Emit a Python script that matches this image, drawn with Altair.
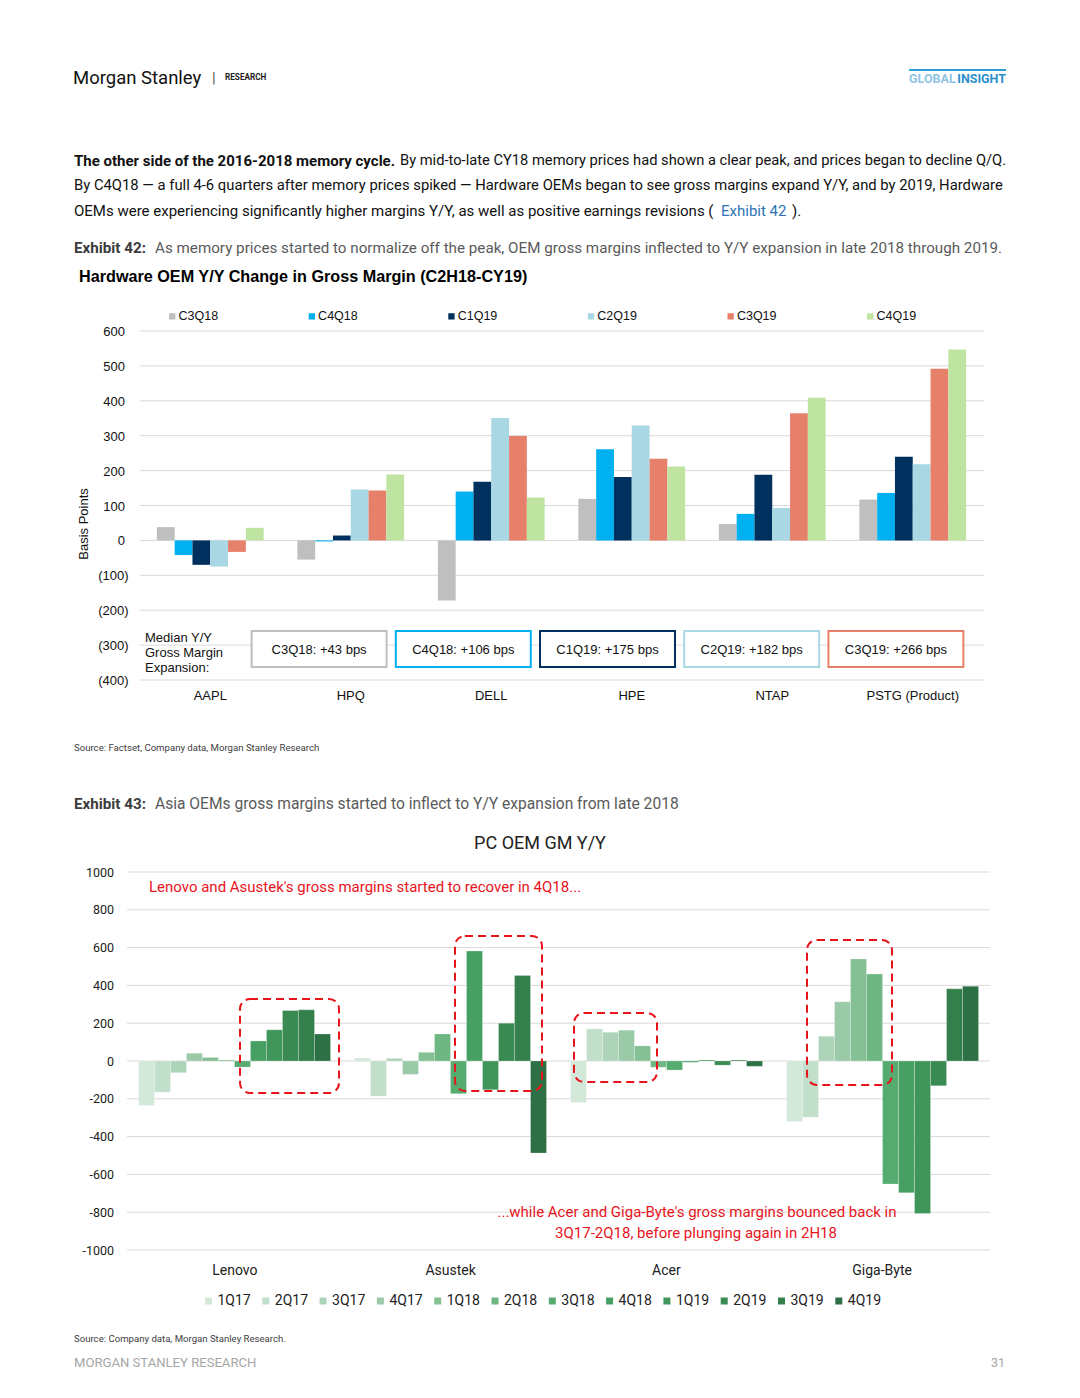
import altair as alt
import pandas as pd

# ---------------- data: Exhibit 42 ----------------
companies1 = ["AAPL", "HPQ", "DELL", "HPE", "NTAP", "PSTG (Product)"]
series1 = ["C3Q18", "C4Q18", "C1Q19", "C2Q19", "C3Q19", "C4Q19"]
colors1 = ["#bfbfbf", "#00b0f0", "#00305e", "#a9d8e4", "#e7806a", "#bfe4a2"]
c3q18 = [38, -55, -172, 119, 47, 117]
c4q18 = [-42, -3, 140, 261, 76, 136]
c1q19 = [-70, 14, 168, 182, 188, 240]
c2q19 = [-75, 146, 351, 329, 93, 218]
c3q19 = [-33, 143, 299, 234, 364, 492]
c4q19 = [36, 189, 123, 212, 409, 547]
median_series = ["C3Q18", "C4Q18", "C1Q19", "C2Q19", "C3Q19"]
median_bps = [43, 106, 175, 182, 266]
ticks1 = [600, 500, 400, 300, 200, 100, 0, -100, -200, -300, -400]
tick_labels1 = ["600", "500", "400", "300", "200", "100", "0", "(100)", "(200)", "(300)", "(400)"]

# ---------------- data: Exhibit 43 ----------------
companies2 = ["Lenovo", "Asustek", "Acer", "Giga-Byte"]
quarters2 = ["1Q17", "2Q17", "3Q17", "4Q17", "1Q18", "2Q18", "3Q18", "4Q18", "1Q19", "2Q19", "3Q19", "4Q19"]
greens2 = ["#d3e8d9", "#c1dfca", "#add4b8", "#9acaa7", "#85c095", "#6eb682", "#55ab70", "#47a063", "#40955a", "#3a8a53", "#34804c", "#2e7045"]
lenovo = [-235, -165, -62, 41, 19, 5, -32, 106, 165, 267, 271, 143]
asustek = [16, -186, 14, -71, 46, 143, -173, 582, -152, 200, 453, -487]
acer = [-219, 170, 152, 163, 80, -33, -48, -7, 5, -22, 5, -28]
gigabyte = [-320, -297, 131, 313, 540, 460, -651, -697, -807, -131, 382, 396]
ticks2 = [1000, 800, 600, 400, 200, 0, -200, -400, -600, -800, -1000]

OFF = 8
def px(v):
    return v - OFF

FONT_DOC = "Roboto"
FONT_XL = "Liberation Sans"
FONT_CH2 = "Roboto"
RDY = 1      # vertical nudge for Roboto text
LDY = 0.5    # vertical nudge for Liberation Sans text

layers = []

def T(s, x, y, size=14, color="#1a1a1a", font=FONT_DOC, weight="normal", align="left", angle=0):
    kw = dict(align=align, baseline="middle", font=font, fontSize=size, fontWeight=weight, color=color)
    if angle:
        kw["angle"] = angle
    dy = RDY if font == "Roboto" else (LDY if not angle else 0)
    layers.append(
        alt.Chart(pd.DataFrame({"t": [s]})).mark_text(**kw).encode(
            x=alt.value(px(x)), y=alt.value(px(y + dy)), text="t:N"
        )
    )

# ---------------- header ----------------
T("Morgan Stanley", 73, 77, 18.5, "#111111")
T("|", 212, 77, 15, "#555555")
T("RESEARCH", 225, 77, 8.2, "#222222", weight="bold")
layers.append(
    alt.Chart(pd.DataFrame({"a": [0]})).mark_rule(color="#2b9fd6", strokeWidth=2).encode(
        x=alt.value(px(909)), x2=alt.value(px(1006)), y=alt.value(px(70))
    )
)
T("GLOBAL", 909, 77.5, 12.5, "#8fc5e3", weight="bold")
T("INSIGHT", 1006, 77.5, 12.5, "#2a90cc", weight="bold", align="right")

# ---------------- paragraph ----------------
T("The other side of the 2016-2018 memory cycle.", 74, 160, 15, "#111111", weight="bold")
T("By mid-to-late CY18 memory prices had shown a clear peak, and prices began to decline Q/Q.", 400, 160, 14.7, "#111111")
T("By C4Q18 \u2014 a full 4-6 quarters after memory prices spiked \u2014 Hardware OEMs began to see gross margins expand Y/Y, and by 2019, Hardware", 74, 185, 14.8, "#111111")
T("OEMs were experiencing significantly higher margins Y/Y, as well as positive earnings revisions (", 74, 210, 15, "#111111")
T("Exhibit 42", 721, 210, 15, "#2e74b5")
T(").", 792, 210, 15, "#111111")

T("Exhibit 42:", 74, 247, 15.2, "#3c3c3c", weight="bold")
T("As memory prices started to normalize off the peak, OEM gross margins inflected to Y/Y expansion in late 2018 through 2019.", 155, 247, 15.2, "#5a5a5a")
T("Hardware OEM Y/Y Change in Gross Margin (C2H18-CY19)", 79, 276, 16.2, "#000000", font=FONT_XL, weight="bold")

# ---------------- chart 1 ----------------
x1s = alt.Scale(domain=companies1, range=[px(140), px(983)], paddingInner=0.24, paddingOuter=0.12)
y1s = alt.Scale(domain=[-400, 600], range=[px(680), px(331)], nice=False, zero=False)

g1 = pd.DataFrame({"v": ticks1, "lab": tick_labels1})
layers.append(
    alt.Chart(g1).mark_rule(color="#d9d9d9", strokeWidth=1).encode(
        y=alt.Y("v:Q", scale=y1s, axis=None), x=alt.value(px(140)), x2=alt.value(px(984))
    )
)
layers.append(
    alt.Chart(g1).transform_filter("datum.v >= 0").mark_text(align="right", baseline="middle", font=FONT_XL, fontSize=13, color="#111111", dy=1).encode(
        y=alt.Y("v:Q", scale=y1s, axis=None), x=alt.value(px(125)), text="lab:N"
    )
)
layers.append(
    alt.Chart(g1).transform_filter("datum.v < 0").mark_text(align="right", baseline="middle", font=FONT_XL, fontSize=13, color="#111111", dy=1).encode(
        y=alt.Y("v:Q", scale=y1s, axis=None), x=alt.value(px(128.5)), text="lab:N"
    )
)
T("Basis Points", 84, 524, 13, "#111111", font=FONT_XL, angle=270, align="center")

rows = []
for s, vals in zip(series1, [c3q18, c4q18, c1q19, c2q19, c3q19, c4q19]):
    for c, v in zip(companies1, vals):
        rows.append({"company": c, "series": s, "value": v})
df1 = pd.DataFrame(rows)

layers.append(
    alt.Chart(df1).mark_bar().encode(
        x=alt.X("company:N", scale=x1s, axis=None, sort=companies1),
        xOffset=alt.XOffset("series:N", scale=alt.Scale(domain=series1, paddingInner=0, paddingOuter=0), sort=series1),
        y=alt.Y("value:Q", scale=y1s, axis=None),
        color=alt.Color(
            "series:N",
            scale=alt.Scale(domain=series1, range=colors1),
            sort=series1,
            legend=alt.Legend(
                title=None, orient="none", legendX=px(166), legendY=px(310), direction="horizontal",
                columns=6, symbolType="square", symbolSize=40, symbolStrokeWidth=0,
                labelFont=FONT_XL, labelFontSize=12.5, labelColor="#111111", labelOffset=0,
                columnPadding=86.6, padding=0,
            ),
        ),
    )
)

# median boxes
dfb = pd.DataFrame({"s": median_series, "bps": median_bps})
bxs = alt.Scale(domain=median_series, range=[px(247), px(968)], paddingInner=0.064, paddingOuter=0.032)
layers.append(
    alt.Chart(dfb).mark_rect(fill="white", strokeWidth=2).encode(
        x=alt.X("s:N", scale=bxs, axis=None, sort=median_series),
        y=alt.value(px(631)), y2=alt.value(px(667)),
        stroke=alt.Stroke("s:N", scale=alt.Scale(domain=median_series, range=colors1[:5]), legend=None),
    )
)
layers.append(
    alt.Chart(dfb).transform_calculate(label="datum.s + ': +' + datum.bps + ' bps'").mark_text(
        align="center", baseline="middle", font=FONT_XL, fontSize=13, color="#111111", dy=0.5
    ).encode(
        x=alt.X("s:N", scale=bxs, axis=None, sort=median_series), y=alt.value(px(649.5)), text="label:N"
    )
)
T("Median Y/Y", 145, 637.5, 13, "#111111", font=FONT_XL)
T("Gross Margin", 145, 652.5, 13, "#111111", font=FONT_XL)
T("Expansion:", 145, 667, 13, "#111111", font=FONT_XL)

layers.append(
    alt.Chart(pd.DataFrame({"company": companies1})).mark_text(
        align="center", baseline="middle", font=FONT_XL, fontSize=13, color="#111111"
    ).encode(x=alt.X("company:N", scale=x1s, axis=None, sort=companies1), y=alt.value(px(695.5)), text="company:N")
)

T("Source: Factset, Company data, Morgan Stanley Research", 74, 747, 9.6, "#404040")

# ---------------- Exhibit 43 ----------------
T("Exhibit 43:", 74, 803, 15.2, "#3c3c3c", weight="bold")
T("Asia OEMs gross margins started to inflect to Y/Y expansion from late 2018", 155, 803, 15.6, "#5a5a5a")
T("PC OEM GM Y/Y", 540, 843, 18, "#222222", font=FONT_CH2, align="center")

x2s = alt.Scale(domain=companies2, range=[px(127), px(990)], paddingInner=0.111, paddingOuter=0.053)
y2s = alt.Scale(domain=[-1000, 1000], range=[px(1250), px(872)], nice=False, zero=False)

g2 = pd.DataFrame({"v": ticks2})
layers.append(
    alt.Chart(g2).mark_rule(color="#d9d9d9", strokeWidth=1).encode(
        y=alt.Y("v:Q", scale=y2s, axis=None), x=alt.value(px(127)), x2=alt.value(px(990))
    )
)
layers.append(
    alt.Chart(g2).mark_text(align="right", baseline="middle", font=FONT_CH2, fontSize=12.5, color="#222222", dy=0.5).encode(
        y=alt.Y("v:Q", scale=y2s, axis=None), x=alt.value(px(114)), text="v:N"
    )
)

rows = []
for c, vals in zip(companies2, [lenovo, asustek, acer, gigabyte]):
    for q, v in zip(quarters2, vals):
        rows.append({"company": c, "quarter": q, "value": v})
df2 = pd.DataFrame(rows)

layers.append(
    alt.Chart(df2).mark_bar(stroke="white", strokeWidth=0.4, strokeOpacity=0.6).encode(
        x=alt.X("company:N", scale=x2s, axis=None, sort=companies2),
        xOffset=alt.XOffset("quarter:N", scale=alt.Scale(domain=quarters2, paddingInner=0, paddingOuter=0), sort=quarters2),
        y=alt.Y("value:Q", scale=y2s, axis=None),
        color=alt.Color(
            "quarter:N",
            scale=alt.Scale(domain=quarters2, range=greens2),
            sort=quarters2,
            legend=alt.Legend(
                title=None, orient="none", legendX=px(201.5), legendY=px(1294), direction="horizontal",
                columns=12, symbolType="square", symbolSize=49, symbolStrokeWidth=0,
                labelFont=FONT_CH2, labelFontSize=14, labelColor="#222222", labelOffset=2,
                columnPadding=7.3, padding=0,
            ),
        ),
    )
)

layers.append(
    alt.Chart(pd.DataFrame({"company": companies2})).mark_text(
        align="center", baseline="middle", font=FONT_CH2, fontSize=14, color="#222222", dy=RDY
    ).encode(x=alt.X("company:N", scale=x2s, axis=None, sort=companies2), y=alt.value(px(1270)), text="company:N")
)

# dashed highlight boxes (annotations)
for (bx0, by0, bx1, by1) in [(240, 999, 339, 1093), (455, 936, 542, 1091), (574, 1013, 657, 1082), (807, 940, 892, 1085)]:
    layers.append(
        alt.Chart(pd.DataFrame({"a": [0]})).mark_rect(
            fill="white", fillOpacity=0, stroke="#e8141c", strokeWidth=2, strokeDash=[8, 5], cornerRadius=10
        ).encode(x=alt.value(px(bx0)), x2=alt.value(px(bx1)), y=alt.value(px(by0)), y2=alt.value(px(by1)))
    )

RED = "#e8141c"
T("Lenovo and Asustek's gross margins started to recover in 4Q18...", 149, 886, 15, RED, font=FONT_CH2)
T("...while Acer and Giga-Byte's gross margins bounced back in", 697, 1211, 15, RED, font=FONT_CH2, align="center")
T("3Q17-2Q18, before plunging again in 2H18", 696, 1232, 15, RED, font=FONT_CH2, align="center")

# ---------------- footer ----------------
T("Source: Company data, Morgan Stanley Research.", 74, 1338, 9.6, "#404040")
T("MORGAN STANLEY RESEARCH", 74, 1362, 13.1, "#a6a6a6")
T("31", 1005, 1362, 12.5, "#a6a6a6", align="right")

chart = (
    alt.layer(*layers)
    .resolve_scale(x="independent", y="independent", color="independent", xOffset="independent", stroke="independent")
    .properties(width=1064, height=1382, autosize=alt.AutoSizeParams(type="none"), padding=0, background="white")
    .configure_view(stroke=None)
)

chart.save("out.html", embed_options={"renderer": "svg", "actions": False})
